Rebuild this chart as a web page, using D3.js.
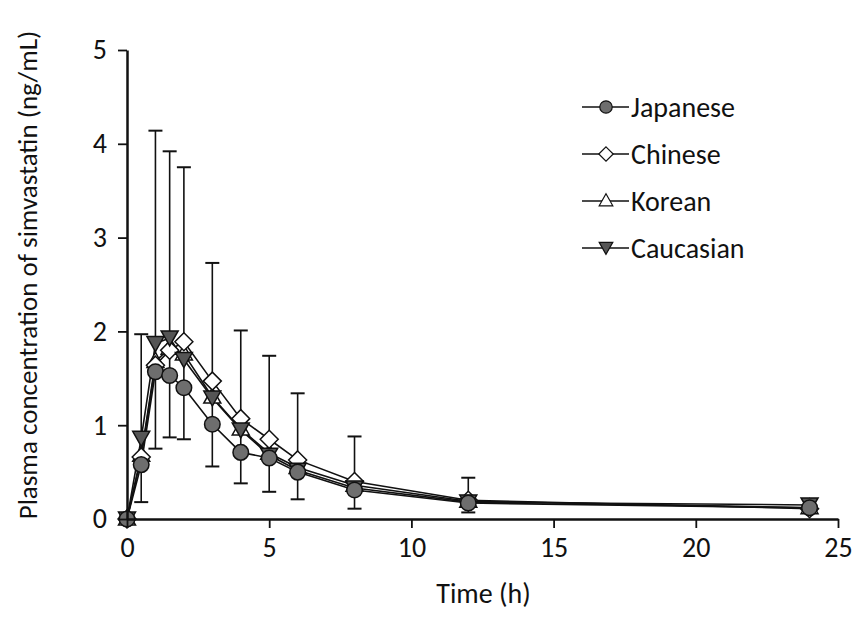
<!DOCTYPE html>
<html>
<head>
<meta charset="utf-8">
<script src="https://cdn.jsdelivr.net/npm/d3@7"></script>
<style>
  body { margin: 0; background: #fff; }
  svg text { font-family: Carlito, Lato, "Open Sans", sans-serif; fill: #111; }
</style>
</head>
<body>
<svg id="chart"></svg>
<script>
var svg_width = 853;
var svg_height = 617;
var margin = {top: 50, right: 15, bottom: 98, left: 127};

// DATA
var times = [0, 0.5, 1, 1.5, 2, 3, 4, 5, 6, 8, 12, 24];
var japanese  = [0, 0.58, 1.57, 1.53, 1.40, 1.01, 0.71, 0.65, 0.50, 0.31, 0.17, 0.12];
var chinese   = [0, 0.66, 1.64, 1.80, 1.89, 1.47, 1.07, 0.85, 0.63, 0.40, 0.20, 0.11];
var korean    = [0, 0.68, 1.68, 1.82, 1.76, 1.30, 0.96, 0.70, 0.55, 0.36, 0.19, 0.12];
var caucasian = [0, 0.86, 1.87, 1.93, 1.70, 1.29, 0.95, 0.68, 0.52, 0.33, 0.18, 0.15];
// error bar ends (upper / lower caps)
var errHigh = [null, 1.97, 4.14, 3.92, 3.75, 2.73, 2.01, 1.74, 1.34, 0.88, 0.44, null];
var errLow  = [null, 0.18, 0.75, 0.87, 0.85, 0.56, 0.38, 0.29, 0.21, 0.11, 0.07, null];

var xTicks = [0, 5, 10, 15, 20, 25];
var yTicks = [0, 1, 2, 3, 4, 5];

var seriesNames = ["Japanese", "Chinese", "Korean", "Caucasian"];
var seriesValues = [japanese, chinese, korean, caucasian];
var seriesSymbols = ["circle", "diamond", "triangle", "triangleDown"];

var series = seriesNames.map(function(name, i) {
  return {
    name: name,
    symbol: seriesSymbols[i],
    points: times.map(function(t, j) { return {t: t, v: seriesValues[i][j]}; })
  };
});

var w = svg_width - margin.left - margin.right;
var h = svg_height - margin.top - margin.bottom;
var fontSize = 28;

// SCALES
var xScale = d3.scaleLinear().domain([0, 25]).range([0, w]);
var yScale = d3.scaleLinear().domain([0, 5]).range([h, 0]);

var svg = d3.select("#chart")
    .attr("width", svg_width)
    .attr("height", svg_height);

var g = svg.append("g")
    .attr("transform", "translate(" + margin.left + "," + margin.top + ")");

// ERROR BARS
var errData = times.map(function(t, i) { return {t: t, hi: errHigh[i], lo: errLow[i]}; })
                   .filter(function(d) { return d.hi !== null; });

var eb = g.append("g").attr("class", "errorbars");
eb.selectAll("line.stem")
  .data(errData)
  .enter()
  .append("line")
    .attr("x1", function(d) { return xScale(d.t); })
    .attr("x2", function(d) { return xScale(d.t); })
    .attr("y1", function(d) { return yScale(d.lo); })
    .attr("y2", function(d) { return yScale(d.hi); })
    .attr("stroke", "#111")
    .attr("stroke-width", 1.6);
["hi", "lo"].forEach(function(k) {
  eb.selectAll("line.cap-" + k)
    .data(errData)
    .enter()
    .append("line")
      .attr("x1", function(d) { return xScale(d.t) - 7; })
      .attr("x2", function(d) { return xScale(d.t) + 7; })
      .attr("y1", function(d) { return yScale(d[k]); })
      .attr("y2", function(d) { return yScale(d[k]); })
      .attr("stroke", "#111")
      .attr("stroke-width", 2);
});

// LINES
var line = d3.line()
    .x(function(d) { return xScale(d.t); })
    .y(function(d) { return yScale(d.v); });

g.selectAll("path.series")
  .data(series)
  .enter()
  .append("path")
    .attr("d", function(d) { return line(d.points); })
    .attr("fill", "none")
    .attr("stroke", "#111")
    .attr("stroke-width", 1.6);

// MARKERS
function symbolPath(kind) {
  if (kind === "circle") return d3.symbol().type(d3.symbolCircle).size(190)();
  if (kind === "diamond") return "M0,-9L9,0L0,9L-9,0Z";
  if (kind === "triangle") return "M0,-9L8.5,6L-8.5,6Z";
  return "M0,8L-8.5,-7L8.5,-7Z";
}
function symbolFill(kind) {
  if (kind === "circle") return "#6e6e6e";
  if (kind === "triangleDown") return "#555";
  return "#fff";
}

var drawOrder = [2, 1, 3, 0];
drawOrder.forEach(function(si) {
  var s = series[si];
  g.append("g")
    .selectAll("path")
    .data(s.points)
    .enter()
    .append("path")
      .attr("transform", function(d) { return "translate(" + xScale(d.t) + "," + yScale(d.v) + ")"; })
      .attr("d", symbolPath(s.symbol))
      .attr("fill", symbolFill(s.symbol))
      .attr("stroke", "#111")
      .attr("stroke-width", 1.5);
});

// AXES
var xAxis = d3.axisBottom(xScale).tickValues(xTicks).tickFormat(d3.format("d"))
              .tickSize(9).tickSizeOuter(0).tickPadding(9);
var yAxis = d3.axisLeft(yScale).tickValues(yTicks).tickFormat(d3.format("d"))
              .tickSize(9).tickSizeOuter(0).tickPadding(11);

var gx = g.append("g")
    .attr("transform", "translate(0," + h + ")")
    .call(xAxis);
var gy = g.append("g")
    .call(yAxis);

[gx, gy].forEach(function(a) {
  a.select(".domain").attr("stroke", "#111").attr("stroke-width", 2.5);
  a.selectAll(".tick line").attr("stroke", "#111").attr("stroke-width", 1.8);
  a.selectAll(".tick text").attr("font-size", fontSize).style("font-family", "Carlito, Lato, 'Open Sans', sans-serif");
});

// AXES LABELS
svg.append("text")
    .attr("x", margin.left + w / 2 + 1)
    .attr("y", 603)
    .attr("font-size", fontSize)
    .style("text-anchor", "middle")
    .text("Time (h)");

svg.append("text")
    .attr("transform", "rotate(-90)")
    .attr("x", -275)
    .attr("y", 37)
    .attr("font-size", 27)
    .style("text-anchor", "middle")
    .text("Plasma concentration of simvastatin (ng/mL)");

// LEGEND
var legend = svg.append("g")
    .attr("transform", "translate(582, 107)");

var items = legend.selectAll("g")
    .data(series)
    .enter()
    .append("g")
      .attr("transform", function(d, i) { return "translate(0," + (i * 47) + ")"; });

items.append("line")
    .attr("x1", 0).attr("x2", 47)
    .attr("y1", 0).attr("y2", 0)
    .attr("stroke", "#111")
    .attr("stroke-width", 1.5);
items.append("path")
    .attr("transform", "translate(24,0) scale(0.8)")
    .attr("d", function(d) { return symbolPath(d.symbol); })
    .attr("fill", function(d) { return symbolFill(d.symbol); })
    .attr("stroke", "#111")
    .attr("stroke-width", 1.5);
items.append("text")
    .attr("x", 49)
    .attr("y", 0)
    .attr("dy", "0.36em")
    .attr("font-size", fontSize)
    .text(function(d) { return d.name; });
</script>
</body>
</html>
